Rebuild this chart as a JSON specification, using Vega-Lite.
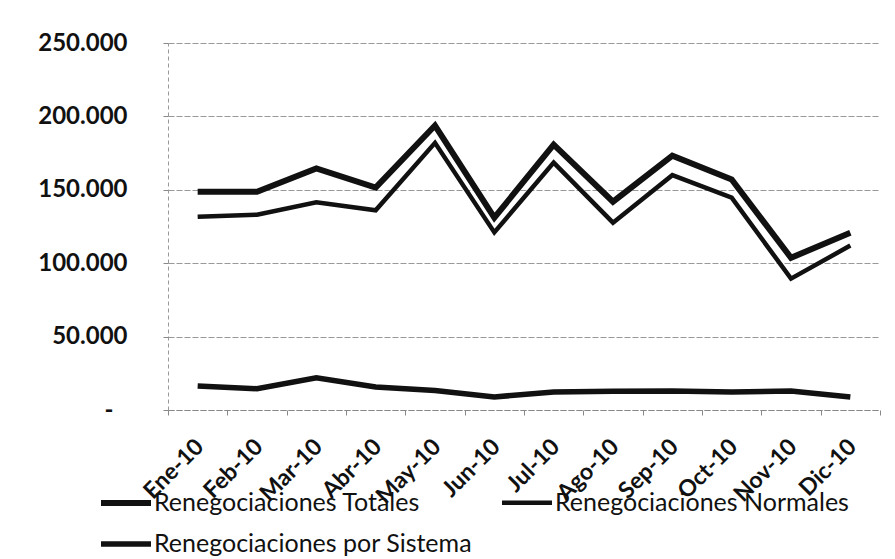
{
  "$schema": "https://vega.github.io/schema/vega-lite/v6.json",
  "autosize": "none",
  "width": 712,
  "height": 367,
  "padding": {"left": 168, "top": 43, "right": 15, "bottom": 149},
  "background": "white",
  "data": {
    "values": [
      {"mes": "Ene-10", "serie": "Renegociaciones Totales", "valor": 148600},
      {"mes": "Feb-10", "serie": "Renegociaciones Totales", "valor": 148600},
      {"mes": "Mar-10", "serie": "Renegociaciones Totales", "valor": 164500},
      {"mes": "Abr-10", "serie": "Renegociaciones Totales", "valor": 151500},
      {"mes": "May-10", "serie": "Renegociaciones Totales", "valor": 193800},
      {"mes": "Jun-10", "serie": "Renegociaciones Totales", "valor": 131000},
      {"mes": "Jul-10", "serie": "Renegociaciones Totales", "valor": 180800},
      {"mes": "Ago-10", "serie": "Renegociaciones Totales", "valor": 141900},
      {"mes": "Sep-10", "serie": "Renegociaciones Totales", "valor": 173200},
      {"mes": "Oct-10", "serie": "Renegociaciones Totales", "valor": 157000},
      {"mes": "Nov-10", "serie": "Renegociaciones Totales", "valor": 103700},
      {"mes": "Dic-10", "serie": "Renegociaciones Totales", "valor": 120700},
      {"mes": "Ene-10", "serie": "Renegociaciones Normales", "valor": 131600},
      {"mes": "Feb-10", "serie": "Renegociaciones Normales", "valor": 133000},
      {"mes": "Mar-10", "serie": "Renegociaciones Normales", "valor": 141500},
      {"mes": "Abr-10", "serie": "Renegociaciones Normales", "valor": 136000},
      {"mes": "May-10", "serie": "Renegociaciones Normales", "valor": 182000},
      {"mes": "Jun-10", "serie": "Renegociaciones Normales", "valor": 121000},
      {"mes": "Jul-10", "serie": "Renegociaciones Normales", "valor": 168500},
      {"mes": "Ago-10", "serie": "Renegociaciones Normales", "valor": 127600},
      {"mes": "Sep-10", "serie": "Renegociaciones Normales", "valor": 160000},
      {"mes": "Oct-10", "serie": "Renegociaciones Normales", "valor": 144600},
      {"mes": "Nov-10", "serie": "Renegociaciones Normales", "valor": 89500},
      {"mes": "Dic-10", "serie": "Renegociaciones Normales", "valor": 112000},
      {"mes": "Ene-10", "serie": "Renegociaciones por Sistema", "valor": 16400},
      {"mes": "Feb-10", "serie": "Renegociaciones por Sistema", "valor": 14500},
      {"mes": "Mar-10", "serie": "Renegociaciones por Sistema", "valor": 22000},
      {"mes": "Abr-10", "serie": "Renegociaciones por Sistema", "valor": 15700},
      {"mes": "May-10", "serie": "Renegociaciones por Sistema", "valor": 13300},
      {"mes": "Jun-10", "serie": "Renegociaciones por Sistema", "valor": 8900},
      {"mes": "Jul-10", "serie": "Renegociaciones por Sistema", "valor": 12300},
      {"mes": "Ago-10", "serie": "Renegociaciones por Sistema", "valor": 12800},
      {"mes": "Sep-10", "serie": "Renegociaciones por Sistema", "valor": 13000},
      {"mes": "Oct-10", "serie": "Renegociaciones por Sistema", "valor": 12200},
      {"mes": "Nov-10", "serie": "Renegociaciones por Sistema", "valor": 13000},
      {"mes": "Dic-10", "serie": "Renegociaciones por Sistema", "valor": 8900}
    ]
  },
  "mark": {"type": "line", "strokeJoin": "miter", "strokeCap": "butt"},
  "encoding": {
    "x": {
      "field": "mes",
      "type": "ordinal",
      "sort": ["Ene-10","Feb-10","Mar-10","Abr-10","May-10","Jun-10","Jul-10","Ago-10","Sep-10","Oct-10","Nov-10","Dic-10"],
      "scale": {"type": "band", "paddingInner": 0, "paddingOuter": 0},
      "axis": {
        "title": null,
        "tickBand": "extent",
        "grid": false,
        "labelAngle": -45,
        "labelFont": "Lato",
        "labelFontWeight": "bold",
        "labelFontSize": 23,
        "labelColor": "#111",
        "labelPadding": 20,
        "labelOffset": -6,
        "tickSize": 5,
        "tickColor": "#888",
        "domainColor": "#888",
        "domainDash": [6, 2]
      }
    },
    "y": {
      "field": "valor",
      "type": "quantitative",
      "scale": {"domain": [0, 250000], "nice": false},
      "axis": {
        "title": null,
        "values": [0, 50000, 100000, 150000, 200000, 250000],
        "labelExpr": "datum.value == 0 ? '-' : replace(format(datum.value, ',.0f'), ',', '.')",
        "labelFont": "Lato",
        "labelFontWeight": "bold",
        "labelFontSize": 24,
        "labelColor": "#111",
        "labelPadding": {"condition": {"test": "datum.value == 0", "value": 50}, "value": 36},
        "tickSize": 5,
        "tickColor": "#888",
        "domainColor": "#999",
        "domainDash": [4, 3],
        "gridColor": "#999",
        "gridDash": [6, 2],
        "gridWidth": 1
      }
    },
    "color": {
      "field": "serie",
      "type": "nominal",
      "scale": {"domain": ["Renegociaciones Totales", "Renegociaciones Normales", "Renegociaciones por Sistema"], "range": ["#111", "#111", "#111"]},
      "legend": {
        "title": null,
        "orient": "none",
        "legendX": -70,
        "legendY": 432,
        "columns": 2,
        "direction": "horizontal",
        "columnPadding": 20,
        "rowPadding": 0,
        "symbolType": "stroke",
        "symbolSize": 2500,
        "labelFont": "Lato",
        "labelFontSize": 25,
        "labelColor": "#111",
        "labelOffset": 0,
        "labelLimit": 500
      }
    },
    "strokeWidth": {
      "field": "serie",
      "type": "nominal",
      "scale": {"type": "ordinal", "domain": ["Renegociaciones Totales", "Renegociaciones Normales", "Renegociaciones por Sistema"], "range": [6, 4.5, 5.5]},
      "legend": null
    }
  },
  "config": {"view": {"stroke": null}}
}
